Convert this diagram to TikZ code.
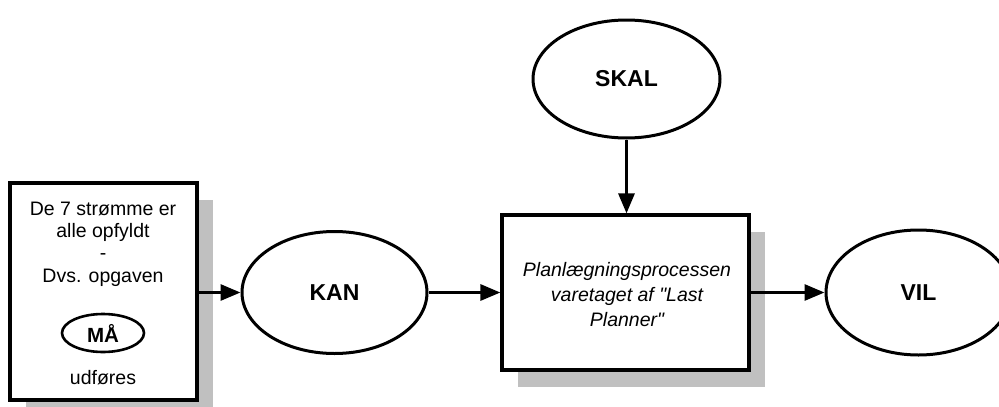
\documentclass[tikz,border=0pt]{standalone}
\usepackage{fontspec}
\newfontfamily\arialfont{Liberation Sans}
\setmainfont{Liberation Sans}
\usetikzlibrary{arrows.meta,shapes.geometric}
\definecolor{shadowgray}{RGB}{192,192,192}
\tikzset{
  boxshape/.style={draw=black, line width=3.2pt, fill=white, rectangle, inner sep=0pt},
  ellshape/.style={draw=black, line width=3pt, fill=white, ellipse, inner sep=0pt},
  conn/.style={line width=3pt, -{Triangle[length=20pt,width=16pt]}},
  plaintext/.style={inner sep=0pt, align=center},
  biglabel/.style={font=\arialfont\bfseries\fontsize{23}{27}\selectfont},
}
\begin{document}
\begin{tikzpicture}[x=1pt,y=-1pt]
\useasboundingbox (0,0) rectangle (999,407);
% shadows
\fill[shadowgray] (26,200) rectangle (213,417);
\fill[shadowgray] (518,232) rectangle (765,387);
% left box
\node[boxshape, minimum width=187pt, minimum height=217pt] (lbox) at (103.5,291.5) {};
\node[plaintext, font=\arialfont\fontsize{19.5}{22.4}\selectfont] (ltext) at (103,244) {De 7 strømme er\\alle opfyldt\\-\\Dvs. opgaven};
\node[ellshape, line width=2.6pt, minimum width=82pt, minimum height=38pt, font=\arialfont\bfseries\fontsize{20.5}{24}\selectfont] (maa) at (103,333) {MÅ};
\node[plaintext, font=\arialfont\fontsize{19.5}{22.4}\selectfont] (udf) at (103,378) {udføres};
% KAN
\node[ellshape, minimum width=185pt, minimum height=122pt, biglabel] (kan) at (334.5,292.5) {KAN};
% main box
\node[boxshape, minimum width=247pt, minimum height=155pt] (main) at (625.5,292.5) {};
\node[plaintext, font=\arialfont\itshape\fontsize{19.5}{25}\selectfont] (mtext) at (627,295) {Planlægningsprocessen\\varetaget af "Last\\Planner"};
% SKAL
\node[ellshape, minimum width=187pt, minimum height=118pt, biglabel] (skal) at (626.5,79) {SKAL};
% VIL
\node[ellshape, minimum width=185pt, minimum height=125pt, biglabel] (vil) at (918.5,292.5) {VIL};
% connectors
\draw[conn] (lbox.east |- kan.west) -- (kan.west);
\draw[conn] (kan.east) -- (main.west |- kan.east);
\draw[conn] (skal.south) -- (main.north -| skal.south);
\draw[conn] (main.east) -- (vil.west);
\end{tikzpicture}
\end{document}
